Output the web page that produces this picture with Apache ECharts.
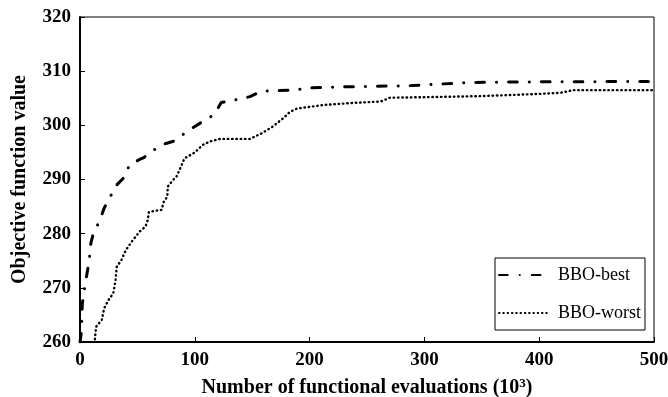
<!DOCTYPE html>
<html>
<head>
<meta charset="utf-8">
<script src="https://cdn.jsdelivr.net/npm/echarts@6/dist/echarts.min.js"></script>
<style>
  html, body { margin: 0; padding: 0; background: #fff; }
  #chart { width: 668px; height: 397px; }
</style>
</head>
<body>
<div id="chart"></div>
<script>
// Convergence of BBO: best and worst runs (x in thousands of evaluations)
const xTicks = [0, 100, 200, 300, 400, 500];
const yTicks = [260, 270, 280, 290, 300, 310, 320];

const bestEvals = [0, 1, 1.5, 2, 4, 6, 8, 9.5, 12, 17, 21, 26, 32, 39, 43, 52, 56, 62, 71, 82, 91, 100, 107, 117, 123, 135, 148, 158, 172, 186, 199, 213, 228, 255, 285, 311, 340, 372, 430, 488, 500];
const bestValues = [260, 261.5, 264, 267, 270, 272.5, 275, 278.3, 280.3, 282.3, 284.7, 286.7, 289, 290.5, 292.7, 293.7, 294.1, 295.1, 296.4, 297.1, 298.5, 299.8, 300.7, 302, 304.2, 304.7, 305.3, 306.3, 306.4, 306.5, 306.9, 307, 307.1, 307.2, 307.3, 307.6, 307.9, 308, 308.05, 308.1, 308.1];

const worstEvals = [13, 14, 19, 21, 25, 29, 31, 32, 36, 40, 46, 52, 57, 59, 60, 65, 71, 73, 76, 76.5, 81, 84, 88, 91, 100, 104, 107, 113, 122, 148, 158, 168, 177, 183, 189, 212, 235, 262, 270, 300, 350, 400, 418, 430, 500];
const worstValues = [260.5, 262.8, 264.1, 266.2, 267.8, 269, 271.5, 273.9, 275.1, 277, 278.8, 280.4, 281.3, 282.5, 284, 284.2, 284.4, 285.9, 286.8, 288.7, 289.9, 290.5, 292.4, 293.9, 295, 295.8, 296.4, 297, 297.5, 297.5, 298.5, 299.8, 301.3, 302.5, 303.1, 303.75, 304.1, 304.4, 305.1, 305.2, 305.4, 305.8, 306, 306.5, 306.5];

const pair = (xs, ys) => xs.map((x, i) => [x, ys[i]]);
const serif = 'Liberation Serif';

const chart = echarts.init(document.getElementById('chart'));
chart.setOption({
  animation: false,
  backgroundColor: '#fff',
  grid: {
    left: 80, right: 14, top: 17, bottom: 55,
    outerBoundsMode: 'none',
    show: true, borderColor: '#000', borderWidth: 1
  },
  legend: {
    orient: 'vertical',
    left: 495, top: 258,
    itemWidth: 50, itemHeight: 18, itemGap: 20,
    padding: [8, 4, 8, 3],
    borderColor: '#000', borderWidth: 1,
    backgroundColor: '#fff',
    itemStyle: { color: 'transparent', borderColor: 'transparent', borderWidth: 0, opacity: 0 },
    textStyle: { fontFamily: serif, fontSize: 18, color: '#000', padding: [0, 0, 0, 4] },
    data: ['BBO-best', 'BBO-worst']
  },
  xAxis: {
    type: 'value',
    min: xTicks[0], max: xTicks[xTicks.length - 1], interval: 100,
    name: '{a|Number of functional evaluations (10}{s|3}{a|)}',
    nameLocation: 'middle', nameGap: 35,
    nameTextStyle: {
      rich: {
        a: { fontFamily: serif, fontWeight: 'bold', fontSize: 20, color: '#000' },
        s: { fontFamily: serif, fontWeight: 'bold', fontSize: 13, color: '#000', verticalAlign: 'top', padding: [0, 0, 9, 0] }
      }
    },
    axisLine: { lineStyle: { color: '#000', width: 2 } },
    axisTick: { inside: true, length: 5, lineStyle: { color: '#000', width: 1 } },
    axisLabel: { fontFamily: serif, fontWeight: 'bold', fontSize: 19, color: '#000', margin: 9 },
    splitLine: { show: false }
  },
  yAxis: {
    type: 'value',
    min: yTicks[0], max: yTicks[yTicks.length - 1], interval: 10,
    name: 'Objective function value',
    nameLocation: 'middle', nameGap: 50,
    nameTextStyle: { fontFamily: serif, fontWeight: 'bold', fontSize: 20, color: '#000' },
    axisLine: { show: true, lineStyle: { color: '#000', width: 2 } },
    axisTick: { show: true, inside: true, length: 5, lineStyle: { color: '#000', width: 1 } },
    axisLabel: { fontFamily: serif, fontWeight: 'bold', fontSize: 19, color: '#000', margin: 9 },
    splitLine: { show: false }
  },
  series: [
    {
      name: 'BBO-best',
      type: 'line',
      symbol: 'none',
      clip: true,
      data: pair(bestEvals, bestValues),
      lineStyle: { color: '#000', width: 3, type: [8.7, 12, 0.1, 12], cap: 'round' },
      itemStyle: { color: '#000' }
    },
    {
      name: 'BBO-worst',
      type: 'line',
      symbol: 'none',
      clip: true,
      data: pair(worstEvals, worstValues),
      lineStyle: { color: '#000', width: 2.4, type: [0.5, 3.8], cap: 'round' },
      itemStyle: { color: '#000' }
    }
  ]
});
</script>
</body>
</html>
